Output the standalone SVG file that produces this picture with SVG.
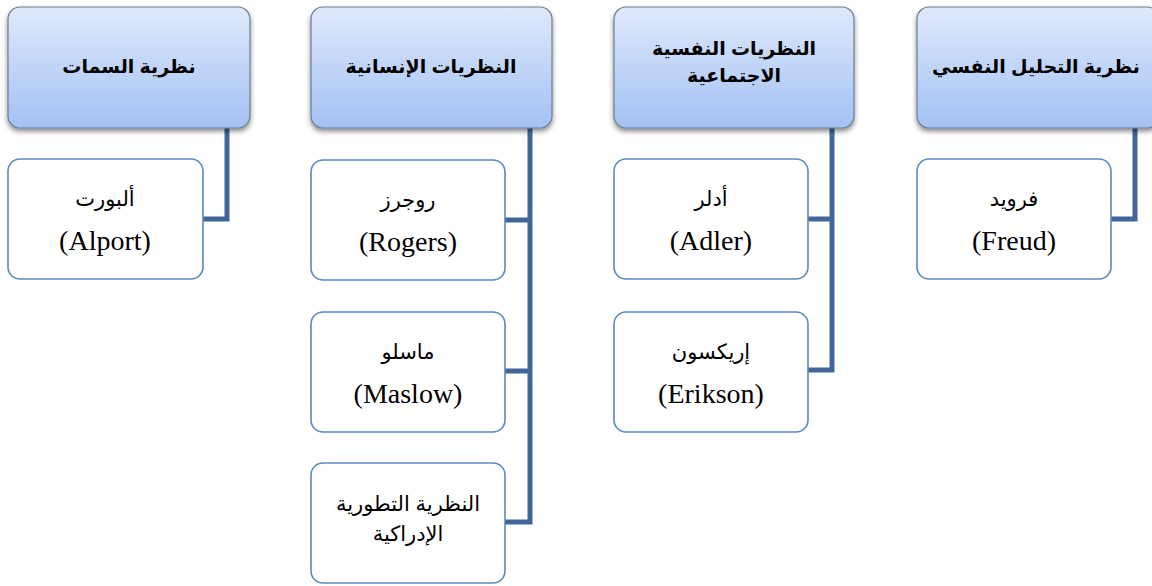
<svg xmlns="http://www.w3.org/2000/svg" width="1152" height="586" viewBox="0 0 1152 586">
<defs>
<linearGradient id="hg" x1="0" y1="0" x2="0" y2="1">
<stop offset="0" stop-color="#dfe9fb"/>
<stop offset="1" stop-color="#a3c1f3"/>
</linearGradient>
<filter id="sh" x="-10%" y="-10%" width="120%" height="130%">
<feDropShadow dx="0" dy="3" stdDeviation="2.5" flood-color="#000" flood-opacity="0.45"/>
</filter>
</defs>
<style>
.hdr{fill:url(#hg);stroke:#6b7d96;stroke-width:1.2;filter:url(#sh)}
.ch{fill:#fff;stroke:#5a88c2;stroke-width:1.6}
.ht{font-family:"Liberation Sans","DejaVu Sans",sans-serif;font-weight:bold;font-size:19px;fill:#000;text-anchor:middle}
.ar{font-family:"Liberation Serif","DejaVu Serif","DejaVu Sans",serif;font-size:21px;fill:#000;text-anchor:middle}
.ars{font-family:"Liberation Sans","DejaVu Sans",sans-serif;font-size:21px;fill:#000;text-anchor:middle}
.la{font-family:"Liberation Serif",serif;font-size:28px;fill:#000;text-anchor:middle}
.con{fill:none;stroke:#41679a;stroke-width:5;stroke-linejoin:miter}
</style>
<rect width="1152" height="586" fill="#fff"/>
<g id="connectors">
<path class="con" d="M227 128 V219 H203"/>
<path class="con" d="M530 128 V522 H505 M530 220 H505 M530 371 H505"/>
<path class="con" d="M832 128 V370 H808 M832 219 H808"/>
<path class="con" d="M1135 128 V219 H1111"/>
</g>
<g id="h1"><rect class="hdr" x="8" y="7" width="242" height="121" rx="12"/><text class="ht" x="129" y="73">نظرية السمات</text></g>
<g id="h2"><rect class="hdr" x="311" y="7" width="241" height="121" rx="12"/><text class="ht" x="431" y="73">النظريات الإنسانية</text></g>
<g id="h3"><rect class="hdr" x="614" y="7" width="240" height="121" rx="12"/><text class="ht" x="734" y="55">النظريات النفسية</text><text class="ht" x="734" y="82">الاجتماعية</text></g>
<g id="h4"><rect class="hdr" x="917" y="7" width="242" height="121" rx="12"/><text class="ht" x="1036" y="73">نظرية التحليل النفسي</text></g>
<g id="c1"><rect class="ch" x="8" y="159" width="195" height="120" rx="12"/><text class="ar" x="105" y="206">ألبورت</text><text class="la" x="105" y="250">(Alport)</text></g>
<g id="c2a"><rect class="ch" x="311" y="160" width="194" height="120" rx="12"/><text class="ar" x="408" y="207">روجرز</text><text class="la" x="408" y="251">(Rogers)</text></g>
<g id="c2b"><rect class="ch" x="311" y="312" width="194" height="120" rx="12"/><text class="ar" x="408" y="359">ماسلو</text><text class="la" x="408" y="403">(Maslow)</text></g>
<g id="c2c"><rect class="ch" x="311" y="463" width="194" height="120" rx="12"/><text class="ars" x="408" y="511">النظرية التطورية</text><text class="ars" x="408" y="541">الإدراكية</text></g>
<g id="c3a"><rect class="ch" x="614" y="159" width="194" height="120" rx="12"/><text class="ar" x="711" y="206">أدلر</text><text class="la" x="711" y="250">(Adler)</text></g>
<g id="c3b"><rect class="ch" x="614" y="312" width="194" height="120" rx="12"/><text class="ar" x="711" y="359">إريكسون</text><text class="la" x="711" y="403">(Erikson)</text></g>
<g id="c4"><rect class="ch" x="917" y="159" width="194" height="120" rx="12"/><text class="ar" x="1014" y="206">فرويد</text><text class="la" x="1014" y="250">(Freud)</text></g>
</svg>
